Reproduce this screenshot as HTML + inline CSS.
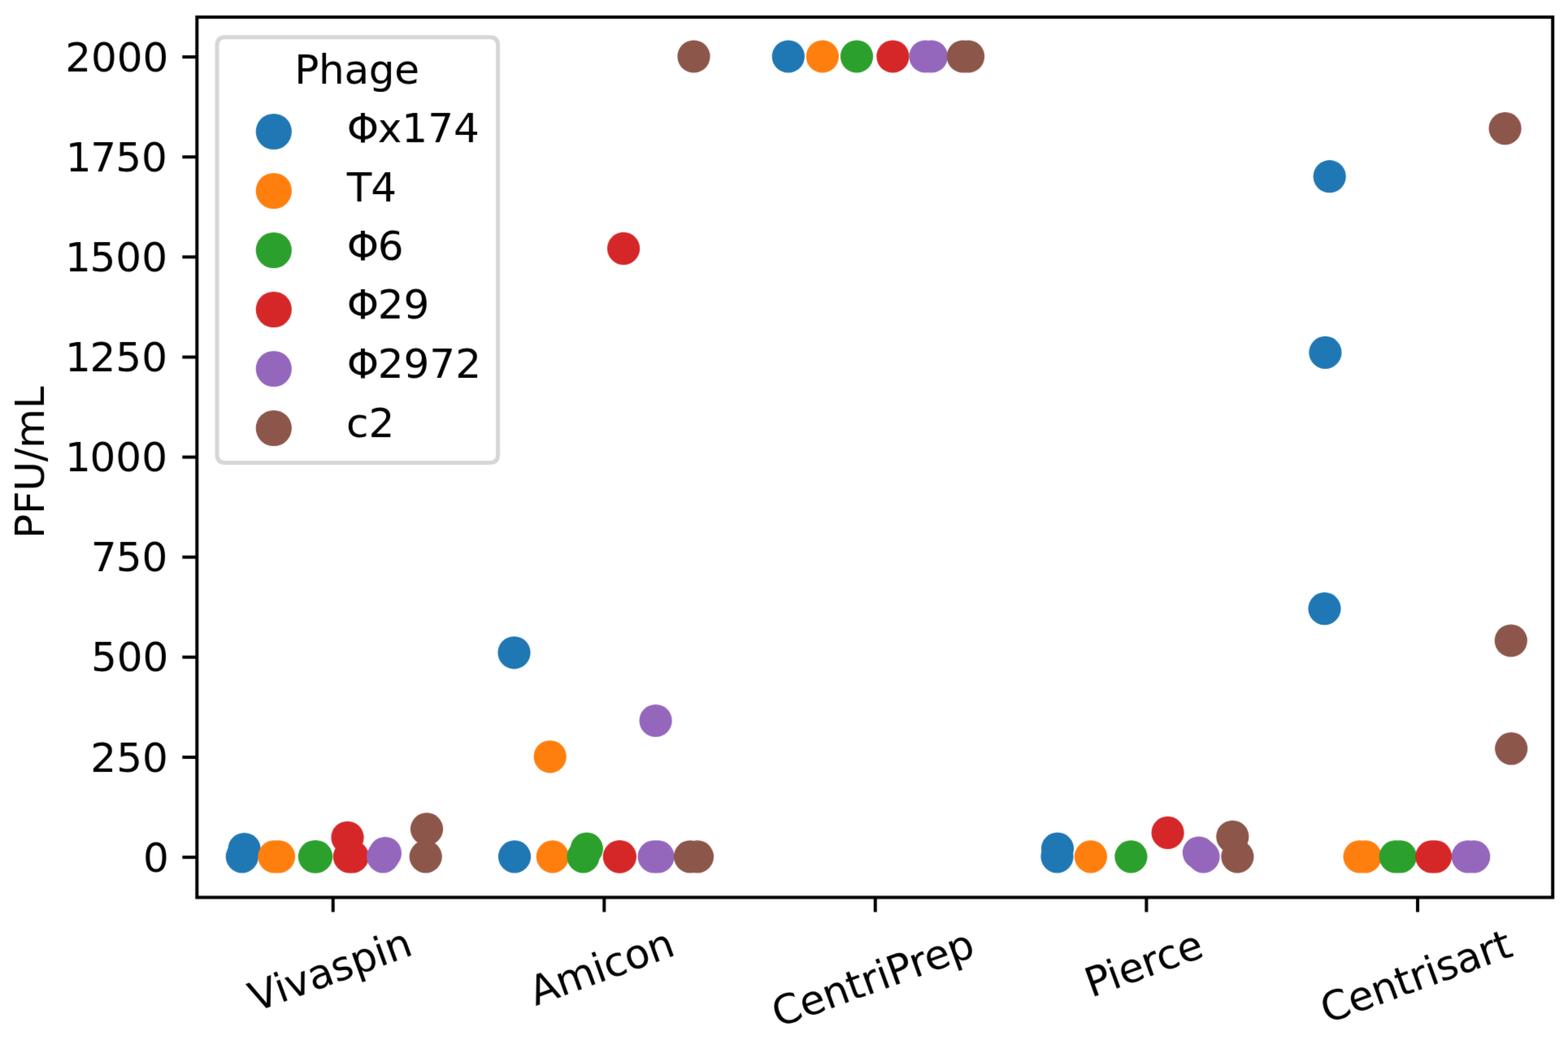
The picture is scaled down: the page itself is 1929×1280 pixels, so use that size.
<!DOCTYPE html>
<html lang="en"><head><meta charset="utf-8"><title>Phage PFU/mL</title>
<style>html,body{margin:0;padding:0;background:#fff;}body{width:1929px;height:1280px;overflow:hidden;}svg{display:block;}#xlabels text{letter-spacing:-0.3px;}text{font-family:"DejaVu Sans","Liberation Sans",sans-serif;font-size:50px;fill:#000;}</style>
</head><body>
<svg width="1929" height="1280" viewBox="0 0 1929 1280">
<defs><filter id="soft" x="0" y="0" width="1929" height="1280" filterUnits="userSpaceOnUse" color-interpolation-filters="sRGB"><feConvolveMatrix order="3" kernelMatrix="0.01134 0.08382 0.01134 0.08382 0.61936 0.08382 0.01134 0.08382 0.01134" divisor="1" bias="0" edgeMode="duplicate" preserveAlpha="true"/></filter></defs>
<rect x="0" y="0" width="1929" height="1280" fill="#ffffff"/>
<g filter="url(#soft)">
<rect x="0" y="0" width="1929" height="1280" fill="#ffffff"/>
<g id="points">
<circle cx="297.8" cy="1054.4" r="20.10" fill="#1f77b4"/>
<circle cx="300.6" cy="1045.0" r="20.10" fill="#1f77b4"/>
<circle cx="633.0" cy="1054.4" r="20.10" fill="#1f77b4"/>
<circle cx="632.5" cy="803.3" r="20.10" fill="#1f77b4"/>
<circle cx="969.8" cy="69.5" r="20.10" fill="#1f77b4"/>
<circle cx="1300.5" cy="1054.4" r="20.10" fill="#1f77b4"/>
<circle cx="1301.0" cy="1044.6" r="20.10" fill="#1f77b4"/>
<circle cx="1635.7" cy="217.2" r="20.10" fill="#1f77b4"/>
<circle cx="1630.4" cy="433.9" r="20.10" fill="#1f77b4"/>
<circle cx="1629.5" cy="749.1" r="20.10" fill="#1f77b4"/>
<circle cx="337.4" cy="1054.4" r="20.10" fill="#ff7f0e"/>
<circle cx="343.0" cy="1054.4" r="20.10" fill="#ff7f0e"/>
<circle cx="679.8" cy="1054.4" r="20.10" fill="#ff7f0e"/>
<circle cx="676.7" cy="931.3" r="20.10" fill="#ff7f0e"/>
<circle cx="1011.8" cy="69.5" r="20.10" fill="#ff7f0e"/>
<circle cx="1341.9" cy="1054.4" r="20.10" fill="#ff7f0e"/>
<circle cx="1672.6" cy="1054.4" r="20.10" fill="#ff7f0e"/>
<circle cx="1679.7" cy="1054.4" r="20.10" fill="#ff7f0e"/>
<circle cx="386.9" cy="1054.4" r="20.10" fill="#2ca02c"/>
<circle cx="389.1" cy="1054.4" r="20.10" fill="#2ca02c"/>
<circle cx="717.5" cy="1054.4" r="20.10" fill="#2ca02c"/>
<circle cx="721.8" cy="1044.6" r="20.10" fill="#2ca02c"/>
<circle cx="1054.0" cy="69.5" r="20.10" fill="#2ca02c"/>
<circle cx="1391.4" cy="1054.4" r="20.10" fill="#2ca02c"/>
<circle cx="1716.7" cy="1054.4" r="20.10" fill="#2ca02c"/>
<circle cx="1722.8" cy="1054.4" r="20.10" fill="#2ca02c"/>
<circle cx="427.5" cy="1030.8" r="20.10" fill="#d62728"/>
<circle cx="429.9" cy="1054.4" r="20.10" fill="#d62728"/>
<circle cx="433.7" cy="1054.4" r="20.10" fill="#d62728"/>
<circle cx="761.8" cy="1054.4" r="20.10" fill="#d62728"/>
<circle cx="762.9" cy="1054.4" r="20.10" fill="#d62728"/>
<circle cx="767.1" cy="305.9" r="20.10" fill="#d62728"/>
<circle cx="1098.4" cy="69.5" r="20.10" fill="#d62728"/>
<circle cx="1436.6" cy="1024.9" r="20.10" fill="#d62728"/>
<circle cx="1761.3" cy="1054.4" r="20.10" fill="#d62728"/>
<circle cx="1766.0" cy="1054.4" r="20.10" fill="#d62728"/>
<circle cx="471.2" cy="1054.4" r="20.10" fill="#9467bd"/>
<circle cx="473.9" cy="1050.0" r="20.10" fill="#9467bd"/>
<circle cx="804.6" cy="1054.4" r="20.10" fill="#9467bd"/>
<circle cx="809.6" cy="1054.4" r="20.10" fill="#9467bd"/>
<circle cx="806.6" cy="887.0" r="20.10" fill="#9467bd"/>
<circle cx="1138.5" cy="69.5" r="20.10" fill="#9467bd"/>
<circle cx="1145.9" cy="69.5" r="20.10" fill="#9467bd"/>
<circle cx="1474.9" cy="1049.5" r="20.10" fill="#9467bd"/>
<circle cx="1480.5" cy="1054.4" r="20.10" fill="#9467bd"/>
<circle cx="1805.8" cy="1054.4" r="20.10" fill="#9467bd"/>
<circle cx="1813.2" cy="1054.4" r="20.10" fill="#9467bd"/>
<circle cx="525.0" cy="1020.4" r="20.10" fill="#8c564b"/>
<circle cx="523.7" cy="1054.4" r="20.10" fill="#8c564b"/>
<circle cx="849.0" cy="1054.4" r="20.10" fill="#8c564b"/>
<circle cx="858.0" cy="1054.4" r="20.10" fill="#8c564b"/>
<circle cx="853.5" cy="69.5" r="20.10" fill="#8c564b"/>
<circle cx="1184.8" cy="69.5" r="20.10" fill="#8c564b"/>
<circle cx="1191.1" cy="69.5" r="20.10" fill="#8c564b"/>
<circle cx="1516.3" cy="1029.8" r="20.10" fill="#8c564b"/>
<circle cx="1522.4" cy="1054.4" r="20.10" fill="#8c564b"/>
<circle cx="1851.6" cy="158.1" r="20.10" fill="#8c564b"/>
<circle cx="1858.8" cy="788.5" r="20.10" fill="#8c564b"/>
<circle cx="1859.2" cy="921.4" r="20.10" fill="#8c564b"/>
</g>
<g id="ticks" stroke="#000" stroke-width="4.00" fill="none">
<line x1="409.7" y1="1104.5" x2="409.7" y2="1122.5"/>
<line x1="743.3" y1="1104.5" x2="743.3" y2="1122.5"/>
<line x1="1076.8" y1="1104.5" x2="1076.8" y2="1122.5"/>
<line x1="1410.4" y1="1104.5" x2="1410.4" y2="1122.5"/>
<line x1="1744.0" y1="1104.5" x2="1744.0" y2="1122.5"/>
<line x1="224.3" y1="1055.1" x2="242.3" y2="1055.1"/>
<line x1="224.3" y1="932.0" x2="242.3" y2="932.0"/>
<line x1="224.3" y1="808.8" x2="242.3" y2="808.8"/>
<line x1="224.3" y1="685.7" x2="242.3" y2="685.7"/>
<line x1="224.3" y1="562.6" x2="242.3" y2="562.6"/>
<line x1="224.3" y1="439.5" x2="242.3" y2="439.5"/>
<line x1="224.3" y1="316.3" x2="242.3" y2="316.3"/>
<line x1="224.3" y1="193.2" x2="242.3" y2="193.2"/>
<line x1="224.3" y1="70.1" x2="242.3" y2="70.1"/>
</g>
<rect x="242.3" y="21.1" width="1667.9" height="1083.4" fill="none" stroke="#000" stroke-width="4.00" stroke-linejoin="miter"/>
<g id="ylabels" text-anchor="end">
<text x="207.8" y="1072.7">0</text>
<text x="206.8" y="949.6">250</text>
<text x="207.4" y="826.4">500</text>
<text x="206.4" y="703.3" dx="0 -0.8">750</text>
<text x="206.0" y="580.2" dx="0 -1.2">1000</text>
<text x="206.0" y="457.1" dx="0 -1.2">1250</text>
<text x="206.0" y="333.9" dx="0 -1.2">1500</text>
<text x="205.9" y="210.8" dx="0 -1.2 -0.8">1750</text>
<text x="207.4" y="87.7">2000</text>
</g>
<text transform="translate(54.2,569.3) rotate(-90)" text-anchor="middle" style="letter-spacing:-0.25px">PFU/mL</text>
<g id="xlabels" text-anchor="middle">
<text transform="translate(411.9,1210.2) rotate(-20)" x="0" y="0">Vivaspin</text>
<text transform="translate(745.7,1206.6) rotate(-20)" x="0" y="0">Amicon</text>
<text transform="translate(1079.6,1220.4) rotate(-20)" x="0" y="0">CentriPrep</text>
<text transform="translate(1412.9,1202.4) rotate(-20)" x="0" y="0">Pierce</text>
<text transform="translate(1747.8,1218.0) rotate(-20)" x="0" y="0">Centrisart</text>
</g>
<g id="legend">
<path d="M277.0,45.8 L602.6,45.8 Q612.6,45.8 612.6,55.8 L612.6,559.5 Q612.6,569.5 602.6,569.5 L277.0,569.5 Q267.0,569.5 267.0,559.5 L267.0,55.8 Q267.0,45.8 277.0,45.8 Z" fill="#ffffff" fill-opacity="0.8" stroke="#cccccc" stroke-opacity="0.8" stroke-width="5"/>
<text x="439.0" y="102.9" text-anchor="middle" style="letter-spacing:-0.3px">Phage</text>
<circle cx="336.8" cy="162.0" r="22.1" fill="#1f77b4"/>
<text x="426.8" y="174.9" dx="0 -1.4">Φx174</text>
<circle cx="336.8" cy="235.0" r="22.1" fill="#ff7f0e"/>
<text x="426.8" y="247.6" dx="0 -1.1">T4</text>
<circle cx="336.8" cy="308.0" r="22.1" fill="#2ca02c"/>
<text x="426.8" y="320.3" dx="0 -1.4">Φ6</text>
<circle cx="336.8" cy="381.0" r="22.1" fill="#d62728"/>
<text x="426.8" y="392.4" dx="0 -1.4">Φ29</text>
<circle cx="336.8" cy="454.0" r="22.1" fill="#9467bd"/>
<text x="426.8" y="465.2" dx="0 -1.4">Φ2972</text>
<circle cx="336.8" cy="527.0" r="22.1" fill="#8c564b"/>
<text x="426.0" y="538.2">c2</text>
</g>
</g>
</svg>
</body></html>
